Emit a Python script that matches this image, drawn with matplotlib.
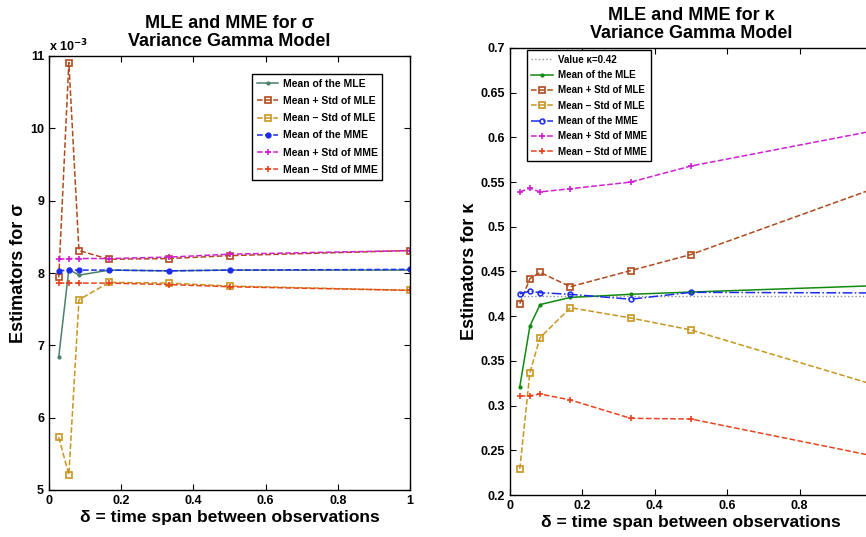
import matplotlib
matplotlib.use("Agg")
import matplotlib.pyplot as plt
from matplotlib.ticker import FuncFormatter, MultipleLocator

plt.rcParams['font.family'] = ['Liberation Sans', 'DejaVu Sans']
plt.rcParams['font.weight'] = 'bold'

# ---------------- data ----------------
delta = [0.027, 0.055, 0.083, 1/6, 1/3, 1/2, 1.0]

# sigma panel (true units)
sig_mle_mean = [6.84e-3, 8.05e-3, 7.97e-3, 8.04e-3, 8.03e-3, 8.04e-3, 8.04e-3]
sig_mle_plus = [7.94e-3, 10.91e-3, 8.31e-3, 8.19e-3, 8.20e-3, 8.24e-3, 8.31e-3]
sig_mle_minus = [5.73e-3, 5.21e-3, 7.63e-3, 7.87e-3, 7.86e-3, 7.82e-3, 7.76e-3]
sig_mme_mean = [8.03e-3, 8.04e-3, 8.04e-3, 8.04e-3, 8.03e-3, 8.04e-3, 8.05e-3]
sig_mme_plus = [8.19e-3, 8.20e-3, 8.20e-3, 8.20e-3, 8.22e-3, 8.26e-3, 8.31e-3]
sig_mme_minus = [7.86e-3, 7.86e-3, 7.86e-3, 7.86e-3, 7.84e-3, 7.81e-3, 7.76e-3]

# kappa panel
kappa_true = 0.4222
kap_mle_mean = [0.321, 0.389, 0.413, 0.421, 0.4245, 0.427, 0.434]
kap_mle_plus = [0.414, 0.442, 0.449, 0.433, 0.451, 0.469, 0.542]
kap_mle_minus = [0.229, 0.337, 0.376, 0.4095, 0.398, 0.3846, 0.324]
kap_mme_mean = [0.425, 0.428, 0.4263, 0.4245, 0.419, 0.4267, 0.426]
kap_mme_plus = [0.539, 0.543, 0.539, 0.5426, 0.550, 0.568, 0.607]
kap_mme_minus = [0.3107, 0.311, 0.313, 0.3063, 0.2858, 0.285, 0.244]

labels = ['Mean of the MLE', 'Mean + Std of MLE', 'Mean \u2013 Std of MLE',
          'Mean of the MME', 'Mean + Std of MME', 'Mean \u2013 Std of MME']

c_mle_l = '#4a8068'
c_mle_r = '#108a10'
c_plus = '#b04a1c'
c_minus = '#c8951e'
c_mme = '#1a2cf0'
c_mmep = '#d21ed2'
c_mmem = '#e8431e'

fig = plt.figure(figsize=(8.66, 5.37), dpi=100)
ax1 = fig.add_axes([49/866, (537-490)/537, 361/866, 434/537])
ax2 = fig.add_axes([510/866, (537-495)/537, 362/866, 447/537])

lw = 1.1
ms = 4

def style(ax):
    for s in ax.spines.values():
        s.set_linewidth(1.0)
    ax.tick_params(direction='in', top=True, right=True, labelsize=9, length=4, width=0.8)
    for t in ax.get_xticklabels() + ax.get_yticklabels():
        t.set_fontweight('bold')

# ---------- left ----------
ax1.plot(delta, sig_mle_mean, '-', color=c_mle_l, marker='.', ms=4, lw=lw, label=labels[0])
ax1.plot(delta, sig_mle_plus, '--', color=c_plus, marker='s', ms=ms, mfc='none', mew=1.2, lw=lw, label=labels[1])
ax1.plot(delta, sig_mle_minus, '--', color=c_minus, marker='s', ms=ms, mfc='none', mew=1.2, lw=lw, label=labels[2])
ax1.plot(delta, sig_mme_mean, '--', color=c_mme, marker='o', ms=3.5, lw=lw, label=labels[3])
ax1.plot(delta, sig_mme_plus, '--', color=c_mmep, marker='+', ms=ms, mew=1.2, lw=lw, label=labels[4])
ax1.plot(delta, sig_mme_minus, '--', color=c_mmem, marker='+', ms=ms, mew=1.2, lw=lw, label=labels[5])
ax1.set_xlim(0, 1)
ax1.set_ylim(5e-3, 11e-3)
ax1.yaxis.set_major_locator(MultipleLocator(1e-3))
ax1.yaxis.set_major_formatter(FuncFormatter(lambda v, p: f"{v*1e3:.0f}"))
ax1.xaxis.set_major_locator(MultipleLocator(0.2))
ax1.xaxis.set_major_formatter(FuncFormatter(lambda v, p: f"{v:g}"))
style(ax1)
ax1.text(0.0, 1.005, 'x 10$^{\\mathbf{-3}}$', transform=ax1.transAxes, fontsize=9,
         fontweight='bold', ha='left', va='bottom')
ax1.set_title('MLE and MME for \u03c3\nVariance Gamma Model', fontsize=13,
              fontweight='bold', pad=7, linespacing=1.1)
ax1.set_xlabel('\u03b4 = time span between observations', fontsize=12.5, fontweight='bold', labelpad=2)
ax1.set_ylabel('Estimators for \u03c3', fontsize=13, fontweight='bold', labelpad=2.5)
leg1 = ax1.legend(loc='upper left', bbox_to_anchor=(0.562, 0.958), fontsize=7.5,
                  frameon=True, fancybox=False, edgecolor='black', framealpha=1,
                  handlelength=2.1, handletextpad=0.4, borderpad=0.45,
                  labelspacing=0.69, borderaxespad=0)
leg1.get_frame().set_linewidth(1.0)
for t in leg1.get_texts():
    t.set_fontweight('bold')

# ---------- right ----------
ax2.plot([delta[0], delta[-1]], [kappa_true, kappa_true], ':', color='#909090', lw=1.0,
         label='Value \u03ba=0.42')
ax2.plot(delta, kap_mle_mean, '-', color=c_mle_r, marker='.', ms=4, lw=lw, label=labels[0])
ax2.plot(delta, kap_mle_plus, '--', color=c_plus, marker='s', ms=ms, mfc='none', mew=1.2, lw=lw, label=labels[1])
ax2.plot(delta, kap_mle_minus, '--', color=c_minus, marker='s', ms=ms, mfc='none', mew=1.2, lw=lw, label=labels[2])
ax2.plot(delta, kap_mme_mean, '-.', color=c_mme, marker='o', ms=3.5, mfc='none', mew=1.1, lw=lw, label=labels[3])
ax2.plot(delta, kap_mme_plus, '--', color=c_mmep, marker='+', ms=ms, mew=1.2, lw=lw, label=labels[4])
ax2.plot(delta, kap_mme_minus, '--', color=c_mmem, marker='+', ms=ms, mew=1.2, lw=lw, label=labels[5])
ax2.set_xlim(0, 1)
ax2.set_ylim(0.2, 0.7)
ax2.yaxis.set_major_locator(MultipleLocator(0.05))
ax2.yaxis.set_major_formatter(FuncFormatter(lambda v, p: f"{v:.2f}".rstrip('0').rstrip('.') if abs(v) > 1e-9 else '0'))
ax2.xaxis.set_major_locator(MultipleLocator(0.2))
ax2.xaxis.set_major_formatter(FuncFormatter(lambda v, p: '' if v > 0.99 else f"{v:g}"))
style(ax2)
ax2.set_title('MLE and MME for \u03ba\nVariance Gamma Model', fontsize=13,
              fontweight='bold', pad=7, linespacing=1.1)
ax2.set_xlabel('\u03b4 = time span between observations', fontsize=12.5, fontweight='bold', labelpad=2)
ax2.set_ylabel('Estimators for \u03ba', fontsize=13, fontweight='bold', labelpad=2)
leg2 = ax2.legend(loc='upper left', bbox_to_anchor=(0.047, 0.995), fontsize=7.0,
                  frameon=True, fancybox=False, edgecolor='black', framealpha=1,
                  handlelength=2.2, handletextpad=0.5, borderpad=0.45,
                  labelspacing=0.55, borderaxespad=0)
leg2.get_frame().set_linewidth(1.0)
for t in leg2.get_texts():
    t.set_fontweight('bold')

fig.savefig('out.png', dpi=100)
